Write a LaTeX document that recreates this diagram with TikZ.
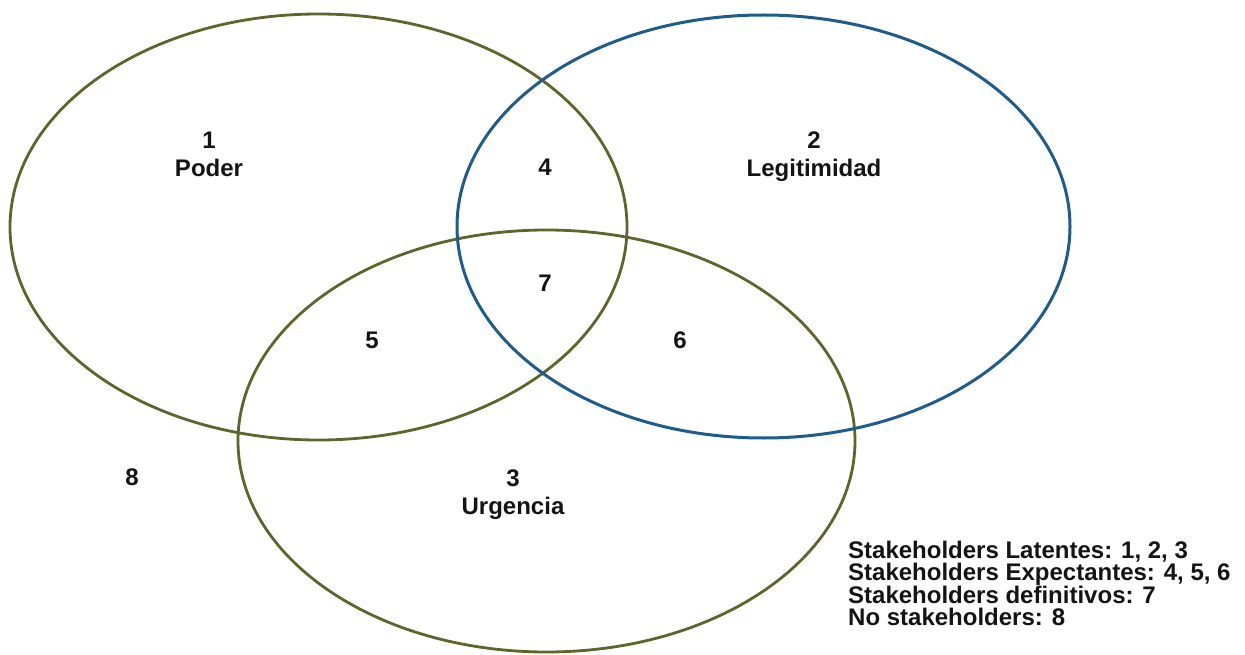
\documentclass[tikz,border=0pt]{standalone}
\usepackage{fontspec}
\setmainfont{Liberation Sans}
\definecolor{olivec}{RGB}{94,100,42}
\definecolor{bluec}{RGB}{30,92,140}
\begin{document}
\begin{tikzpicture}[x=1pt,y=-1pt,
  lbl/.style={anchor=base,inner sep=0pt,font=\fontsize{24}{28}\selectfont\bfseries,text=black!92},
  leg/.style={anchor=base west,inner sep=0pt,text height=16pt,text depth=4pt,font=\fontsize{24}{22}\selectfont\bfseries,text=black!92},
  setol/.style={draw=olivec,line width=2.8pt},
  setbl/.style={draw=bluec,line width=3pt}]
\useasboundingbox[fill=white] (0,0) rectangle (1245,655);
% sets
\draw[setol] (318.5,227) ellipse [x radius=308.5pt, y radius=213pt];
\draw[setol] (546.5,441) ellipse [x radius=308.5pt, y radius=211pt];
\draw[setbl] (763.5,226.5) ellipse [x radius=306.5pt, y radius=211.5pt];
% labels
\node[lbl] (n1) at (209,148.5) {1};
\node[lbl] (poder) at (209,176.5) {Poder};
\node[lbl] (n2) at (814,148.5) {2};
\node[lbl] (legit) at (814,176.5) {Legitimidad};
\node[lbl] (n3) at (513,486.5) {3};
\node[lbl] (urg) at (513,514.5) {Urgencia};
\node[lbl] (n4) at (545,175.5) {4};
\node[lbl] (n5) at (372,348.5) {5};
\node[lbl] (n6) at (680,348.5) {6};
\node[lbl] (n7) at (545,291.5) {7};
\node[lbl] (n8) at (132,485.5) {8};
% legend
\node[leg] (l1) at (848,558) {Stakeholders Latentes: 1, 2, 3};
\node[leg] (l2) at (848,580.5) {Stakeholders Expectantes: 4, 5, 6};
\node[leg] (l3) at (848,603) {Stakeholders definitivos: 7};
\node[leg] (l4) at (848,625.5) {No stakeholders: 8};
\end{tikzpicture}
\end{document}
